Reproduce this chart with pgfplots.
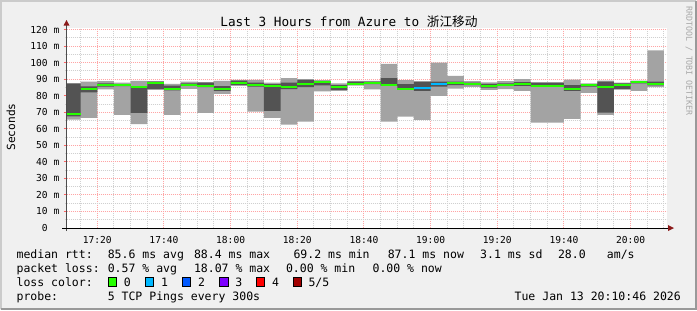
\documentclass[border=0pt]{standalone}
\usepackage{pgfplots}
\pgfplotsset{compat=1.18}
\usepgfplotslibrary{fillbetween}
\usepackage{pgfplotstable}
\usepackage{fontspec}
\setmainfont{DejaVu Sans Mono}
\setmonofont{DejaVu Sans Mono}
\newfontfamily\cjk{Noto Sans CJK SC}
\newcommand\fs[1]{\fontsize{#1bp}{#1bp}\selectfont}

\definecolor{bg}{HTML}{F0F0F0}
\definecolor{shadeA}{HTML}{CBCBCB}
\definecolor{shadeB}{HTML}{999999}
\definecolor{smokeL}{HTML}{A3A3A3}
\definecolor{smokeD}{HTML}{535353}
\definecolor{loss0}{HTML}{26FF00}
\definecolor{loss1}{HTML}{00B8FF}
\definecolor{loss2}{HTML}{0059FF}
\definecolor{loss3}{HTML}{7E00FF}
\definecolor{loss4}{HTML}{FF0000}
\definecolor{loss5}{HTML}{A10000}
\definecolor{mgrid}{HTML}{FFA5A5}
\definecolor{mingrid}{HTML}{D0D0D0}
\definecolor{arrowc}{HTML}{8B1A1A}
\definecolor{wm}{HTML}{A8A8A8}
\pagecolor{bg}

% minutes after 17:00; p1..p5 = sorted pings (ms)
\pgfplotstableread{
t p1 p2 med p4 p5
10 65.5 67.5 69.2 87.3 87.7
15 66.7 82.0 83.8 85.7 88.5
20 83.8 85.5 86.7 87.5 88.9
25 68.5 85.8 86.3 86.8 88.0
30 62.9 69.6 85.2 85.6 89.0
35 83.6 84.2 87.5 88.5 88.8
40 68.5 83.3 84.0 86.2 87.2
45 84.2 86.0 86.7 87.5 88.6
50 69.6 85.2 86.0 88.0 88.3
55 81.2 83.0 84.2 85.8 89.0
60 86.0 86.6 87.5 89.1 89.6
65 70.4 85.5 86.7 88.0 89.6
70 66.7 70.9 86.2 87.0 88.0
75 62.5 84.0 85.4 88.0 90.7
80 64.3 85.3 87.2 89.6 90.0
85 82.7 86.3 88.4 88.9 89.5
90 83.0 83.5 85.3 86.5 87.5
95 86.1 86.8 87.3 88.5 89.0
100 83.9 87.0 88.0 88.5 89.0
105 64.3 86.0 86.8 90.7 99.3
110 67.4 84.0 84.4 87.0 89.5
115 65.4 83.0 84.7 88.5 88.7
120 80.0 85.5 87.4 88.5 100.0
125 84.3 86.5 87.5 88.5 92.0
130 85.4 86.5 87.2 88.0 88.8
135 83.5 85.0 86.1 87.2 88.1
140 84.0 86.0 86.8 87.5 88.8
145 83.0 86.0 87.2 88.2 90.0
150 63.7 85.5 86.2 87.8 88.2
155 63.7 85.5 86.2 87.8 88.2
160 66.1 83.0 83.8 86.5 89.7
165 81.8 85.5 86.4 87.0 87.5
170 68.5 69.8 85.5 88.5 89.1
175 83.7 84.0 86.7 87.5 88.0
180 83.0 87.5 88.4 88.8 89.2
185 85.3 86.3 87.1 88.5 107.4
190 85.3 86.3 87.1 88.5 107.4
}\smoke

\pgfplotstableread{
t med
115 84.7
120 87.4
125 87.4
}\lossone

\begin{document}
\begin{tikzpicture}
\begin{scope}[x=1bp,y=-1bp]
\useasboundingbox (0,0) rectangle (697,310);
\draw[shadeA, line width=2bp] (1,309) -- (1,1) -- (696,1);
\draw[shadeB, line width=2bp] (1,309) -- (696,309) -- (696,1);
\end{scope}

\begin{axis}[
  at={(66.5bp,-228bp)}, anchor=south west,
  scale only axis, width=600bp, height=200bp,
  xmin=10.7667, xmax=190.7667, ymin=0, ymax=121,
  axis background/.style={fill=white},
  axis line style={draw=none},
  xtick={20,40,...,180},
  xticklabels={17:20,17:40,18:00,18:20,18:40,19:00,19:20,19:40,20:00},
  minor xtick={15,20,...,190},
  ytick={0,10,...,120},
  yticklabels={0\hphantom{00},10 m,20 m,30 m,40 m,50 m,60 m,70 m,80 m,90 m,100 m,110 m,120 m},
  minor ytick={5,15,...,115},
  xtick pos=bottom, ytick pos=left,
  tick align=outside,
  x tick style={draw=none},
  y tick style={color=mgrid!60!red, line width=1bp},
  minor y tick style={color=mingrid, line width=1bp},
  major tick length=3bp, minor tick length=2bp,
  grid=both,
  major grid style={mgrid, line width=1bp, dash pattern=on 1bp off 1bp},
  minor grid style={mingrid, line width=1bp, dash pattern=on 1bp off 1bp},
  yticklabel style={font=\fs{9.6}, inner sep=0pt, anchor=east, xshift=-4bp},
  xticklabel style={font=\fs{9.6}, inner sep=0pt, anchor=north, yshift=-5bp},
]
\addplot[name path=pa, draw=none, const plot, forget plot] table[x=t,y=p1]{\smoke};
\addplot[name path=pe, draw=none, const plot, forget plot] table[x=t,y=p5]{\smoke};
\addplot[fill=smokeL, draw=none] fill between[of=pa and pe];
\addplot[name path=pb, draw=none, const plot, forget plot] table[x=t,y=p2]{\smoke};
\addplot[name path=pd, draw=none, const plot, forget plot] table[x=t,y=p4]{\smoke};
\addplot[fill=smokeD, draw=none] fill between[of=pb and pd];
\addplot[loss0, line width=2bp, jump mark left, mark=none] table[x=t,y=med]{\smoke};
\addplot[loss1, line width=2bp, jump mark left, mark=none] table[x=t,y=med]{\lossone};
\end{axis}

\begin{scope}[x=1bp,y=-1bp]
% axes
\draw[color=black!70, line width=1bp] (66.5,231) -- (66.5,25);
\draw[color=black, line width=1bp] (62,228) -- (668,228);
\fill[arrowc] (63.5,25.5) -- (69.5,25.5) -- (66.5,20) -- cycle;
\fill[arrowc] (668,225) -- (668,231) -- (674,228) -- cycle;
% title
\node[anchor=base, inner sep=0pt, font=\fs{12.7}] at (349,26) {Last 3 Hours from Azure to {\cjk 浙江移动}};
% y label
\node[rotate=90, inner sep=0pt, font=\fs{11.2}] at (11,127) {Seconds};
% watermark
\node[rotate=-90, inner sep=0pt, font=\fs{8.3}, text=wm] at (689,61) {RRDTOOL / TOBI OETIKER};
% legend
\begin{scope}[every node/.style={anchor=base west, inner sep=0pt, font=\fs{11.5}}]
\node at (16.4,258) {median rtt:};
\node at (107.6,258) {85.6 ms avg};
\node at (193.8,258) {88.4 ms max};
\node at (293.3,258) {69.2 ms min};
\node at (387.6,258) {87.1 ms now};
\node at (480,258) {3.1 ms sd};
\node at (557.8,258) {28.0};
\node at (606.7,258) {am/s};
\node at (16.4,272) {packet loss:};
\node at (107.6,272) {0.57 \% avg};
\node at (193.8,272) {18.07 \% max};
\node at (285.8,272) {0.00 \% min};
\node at (372.4,272) {0.00 \% now};
\node at (16.4,286) {loss color:};
\node at (123.6,286) {0};
\node at (160.9,286) {1};
\node at (197.8,286) {2};
\node at (235.2,286) {3};
\node at (272,286) {4};
\node at (308.3,286) {5/5};
\node at (16.4,300) {probe:};
\node at (107.6,300) {5 TCP Pings every 300s};
\node[anchor=base east] at (681,300) {Tue Jan 13 20:10:46 2026};
\end{scope}
\foreach \bx/\c in {108/loss0,145.3/loss1,182.2/loss2,219.6/loss3,256.4/loss4,293.3/loss5}{
  \filldraw[fill=\c, draw=black, line width=0.8bp] (\bx,277.5) rectangle ++(8.4,8.6);
}
\end{scope}
\end{tikzpicture}
\end{document}
